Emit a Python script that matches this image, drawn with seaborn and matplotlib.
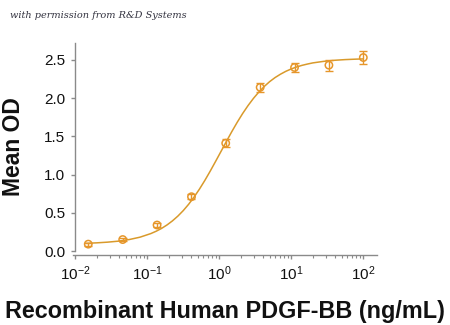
import numpy as np
import pandas as pd
import matplotlib
matplotlib.use("Agg")
import matplotlib.pyplot as plt
import seaborn as sns
from matplotlib.ticker import LogLocator, NullFormatter

# Measured points
conc = [0.0152, 0.0457, 0.137, 0.412, 1.23, 3.70, 11.1, 33.3, 100.0]
od_mean = [0.09, 0.15, 0.34, 0.71, 1.41, 2.14, 2.40, 2.43, 2.53]
od_err = [0.02, 0.02, 0.03, 0.03, 0.05, 0.06, 0.065, 0.07, 0.08]

# Fitted curve (log10 concentration, OD)
curve_logx = [-1.85, -1.7, -1.55, -1.4, -1.25, -1.1, -0.95, -0.875, -0.8, -0.725,
              -0.65, -0.575, -0.5, -0.425, -0.35, -0.275, -0.2, -0.125, -0.05, 0.025,
              0.1, 0.175, 0.25, 0.325, 0.4, 0.475, 0.55, 0.625, 0.7, 0.775,
              0.85, 0.925, 1.0, 1.075, 1.15, 1.225, 1.3, 1.45, 1.6, 1.75, 1.9, 2.0]
curve_od = [0.101, 0.107, 0.116, 0.129, 0.150, 0.181, 0.228, 0.259, 0.296, 0.341,
            0.394, 0.456, 0.528, 0.611, 0.705, 0.809, 0.923, 1.045, 1.173, 1.303,
            1.434, 1.562, 1.684, 1.798, 1.902, 1.996, 2.079, 2.152, 2.215, 2.268,
            2.312, 2.350, 2.381, 2.407, 2.428, 2.445, 2.460, 2.480, 2.494, 2.503, 2.509, 2.512]

yticks = [0.0, 0.5, 1.0, 1.5, 2.0, 2.5]

sns.set_theme(style="ticks")
plt.rcParams["font.family"] = ["Liberation Sans", "DejaVu Sans"]
plt.rcParams["mathtext.fontset"] = "custom"
plt.rcParams["mathtext.rm"] = "Liberation Sans"
plt.rcParams["mathtext.it"] = "Liberation Sans:italic"
plt.rcParams["mathtext.bf"] = "Liberation Sans:bold"

fig = plt.figure(figsize=(4.5, 3.25), dpi=100)
ax = fig.add_axes([73 / 450, 1 - 255 / 325, 304 / 450, 212 / 325])

curve_df = pd.DataFrame({"conc": [10 ** v for v in curve_logx], "od": curve_od})
pts_df = pd.DataFrame({"conc": conc, "od": od_mean, "err": od_err})

line_color = "#D99A2B"
mark_color = "#E6962A"

sns.lineplot(data=curve_df, x="conc", y="od", ax=ax, color=line_color, lw=1.1)
ax.errorbar(pts_df["conc"], pts_df["od"], yerr=pts_df["err"], fmt="none",
            ecolor=mark_color, elinewidth=1.0, capsize=3, capthick=1.0)
sns.scatterplot(data=pts_df, x="conc", y="od", ax=ax, marker="o", s=28,
                facecolor="none", edgecolor=mark_color, linewidth=1.1, zorder=5)

ax.set_xscale("log")
ax.set_xlim(10 ** -2.03, 10 ** 2.19)
ax.set_ylim(-0.052, 2.72)
ax.set_yticks(yticks)
ax.set_yticklabels([f"{v:.1f}" for v in yticks])
ax.xaxis.set_major_locator(LogLocator(base=10, numticks=10))
ax.xaxis.set_minor_locator(LogLocator(base=10, subs=np.arange(2, 10), numticks=20))
ax.xaxis.set_minor_formatter(NullFormatter())

spine_color = "#8a8a8a"
for s in ["top", "right"]:
    ax.spines[s].set_visible(False)
for s in ["left", "bottom"]:
    ax.spines[s].set_color(spine_color)
    ax.spines[s].set_linewidth(1.0)
ax.spines["left"].set_bounds(0.0, 2.72)
ax.spines["left"].set_position(("data", 10 ** -2.0))

ax.tick_params(axis="both", which="major", direction="out", length=3,
               width=1.0, color=spine_color, labelsize=11, pad=4,
               labelcolor="#111111")
ax.tick_params(axis="x", which="minor", direction="out", length=2,
               width=0.8, color=spine_color)
ax.tick_params(axis="y", which="minor", length=0)

ax.set_xlabel("Recombinant Human PDGF-BB (ng/mL)", fontsize=16.8,
              fontweight="bold", color="#111111")
ax.set_ylabel("Mean OD", fontsize=16.5, fontweight="bold", color="#111111")
ax.xaxis.set_label_coords(0.5, -0.21)
ax.yaxis.set_label_coords(-0.158, 0.51)

fig.text(10 / 450, 1 - 16 / 325, "with permission from R&D Systems",
         fontsize=7.0, style="italic", family="DejaVu Serif",
         color="#333340", va="center", ha="left")

fig.savefig("out.png", dpi=100, facecolor="white")
